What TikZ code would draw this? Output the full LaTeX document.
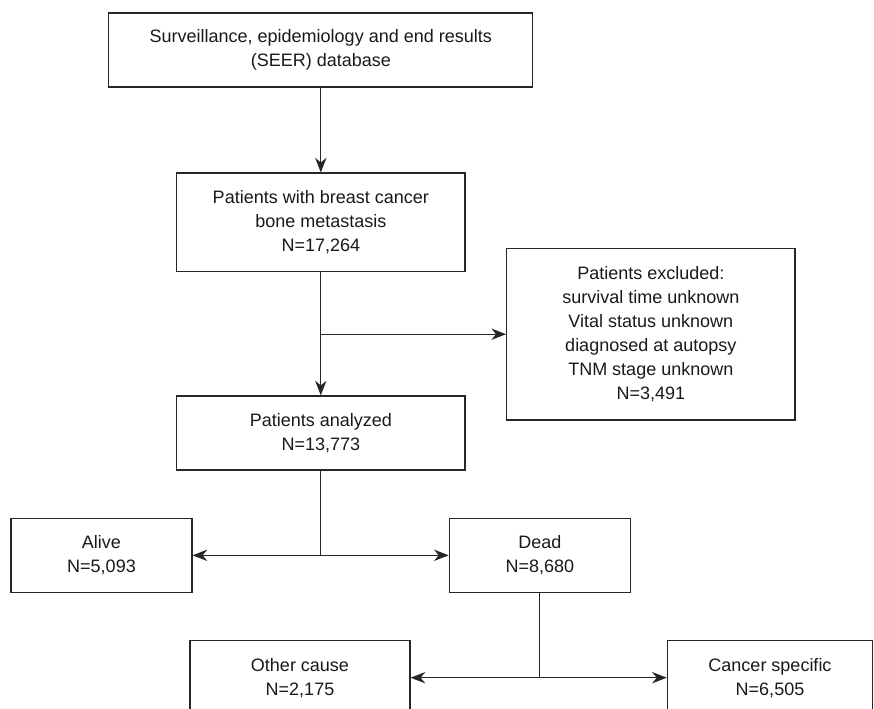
\documentclass[tikz,border=0pt]{standalone}
\usepackage{fontspec}
\setmainfont{Liberation Sans}
\usetikzlibrary{arrows.meta}
\tikzset{
  box/.style={draw=black!85, line width=0.9pt, align=center, inner sep=0pt,
    minimum width=216.2pt, minimum height=55.5pt,
    font=\fontsize{13.5}{18}\selectfont, text=black!90},
  link/.style={draw=black!85, line width=0.9pt},
  arrow/.style={link, -{Stealth[length=11pt,width=8.5pt,inset=3.5pt]}}
}
\begin{document}
\begin{tikzpicture}[x=0.75pt,y=-0.75pt]
\useasboundingbox (0,0) rectangle (874,708);
\node[box, minimum width=318pt] (seer) at (320.8,50) {Surveillance, epidemiology and end results\\(SEER) database};
\node[box, minimum height=74pt] (bcbm) at (320.8,222.4) {Patients with breast cancer\\bone metastasis\\N=17,264};
\node[box, minimum height=128.6pt] (excl) at (650.8,334.2) {Patients excluded:\\survival time unknown\\Vital status unknown\\diagnosed at autopsy\\TNM stage unknown\\N=3,491};
\node[box] (analyzed) at (320.8,433) {Patients analyzed\\N=13,773};
\node[box, minimum width=135.75pt] (alive) at (101.5,555.3) {Alive\\N=5,093};
\node[box, minimum width=135.75pt] (dead) at (539.8,555.3) {Dead\\N=8,680};
\node[box, minimum width=165pt] (other) at (300,677.7) {Other cause\\N=2,175};
\node[box, minimum width=154pt] (cancer) at (770,677.7) {Cancer specific\\N=6,505};
\coordinate (fork1) at (analyzed.south |- alive.east);
\coordinate (fork2) at (dead.south |- other.east);
\draw[arrow] (seer) -- (bcbm);
\draw[arrow] (bcbm) -- (analyzed);
\draw[arrow] (bcbm.south |- excl.west) -- (excl.west);
\draw[link] (analyzed) -- (fork1);
\draw[arrow] (fork1) -- (alive);
\draw[arrow] (fork1) -- (dead);
\draw[link] (dead) -- (fork2);
\draw[arrow] (fork2) -- (other);
\draw[arrow] (fork2) -- (cancer);
\end{tikzpicture}
\end{document}
